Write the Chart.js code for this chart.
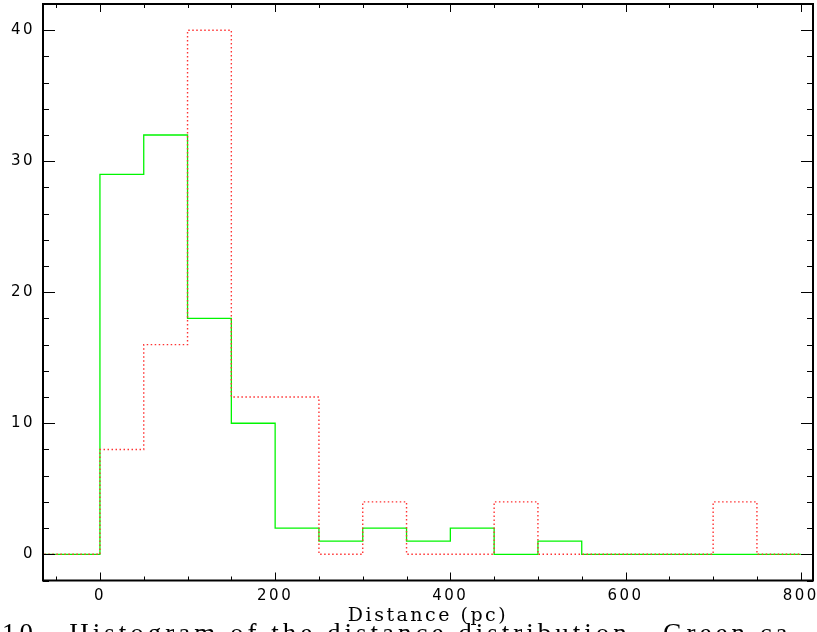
<!DOCTYPE html>
<html>
<head>
<meta charset="utf-8">
<script src="https://cdn.jsdelivr.net/npm/chart.js@4.4.1/dist/chart.umd.min.js"></script>
<style>
html,body{margin:0;padding:0;background:#fff;}
#wrap{width:817px;height:632px;position:relative;}
</style>
</head>
<body>
<div id="wrap"><canvas id="c" width="817" height="632"></canvas></div>
<script>
// Bin left edges (pc); the last entry closes the final bin
const binEdges = [-100, -50, 0, 50, 100, 150, 200, 250, 300, 350, 400, 450, 500, 550, 600, 650, 700, 750, 800];
// Counts per bin (solid green histogram)
const greenCounts = [0, 0, 29, 32, 18, 10, 2, 1, 2, 1, 2, 0, 1, 0, 0, 0, 0, 0];
// Counts per bin (dotted red histogram)
const redCounts = [0, 0, 8, 16, 40, 12, 12, 0, 4, 0, 0, 4, 0, 0, 0, 0, 4, 0];
// Axis tick labels
const xTickValues = [0, 200, 400, 600, 800];
const yTickValues = [0, 10, 20, 30, 40];
const xMinorStep = 50;
const yMinorStep = 2;
const xAxisTitle = 'Distance (pc)';
const captionText = '10.  Histogram of the distance distribution.  Green ca';

function toSteps(counts) {
  const pts = counts.map((c, i) => ({x: binEdges[i], y: c}));
  pts.push({x: binEdges[binEdges.length - 1], y: counts[counts.length - 1]});
  return pts;
}

const framePlugin = {
  id: 'frame',
  beforeDraw(chart) {
    chart.ctx.letterSpacing = '2.5px';
  },
  afterDatasetsDraw(chart) {
    const ctx = chart.ctx;
    const a = chart.chartArea;
    const xs = chart.scales.x, ys = chart.scales.y;
    ctx.save();
    ctx.strokeStyle = '#000';
    ctx.lineWidth = 1;
    const xStart = Math.ceil(xs.min / xMinorStep) * xMinorStep;
    for (let v = xStart; v <= xs.max; v += xMinorStep) {
      const px = Math.round(xs.getPixelForValue(v)) + 0.5;
      const major = xTickValues.includes(v);
      const len = major ? 8 : 4;
      ctx.beginPath();
      ctx.moveTo(px, a.bottom); ctx.lineTo(px, a.bottom - len);
      ctx.moveTo(px, a.top); ctx.lineTo(px, a.top + len);
      ctx.stroke();
    }
    const yStart = Math.ceil(ys.min / yMinorStep) * yMinorStep;
    for (let v = yStart; v <= ys.max; v += yMinorStep) {
      const py = Math.round(ys.getPixelForValue(v)) + 0.5;
      const major = yTickValues.includes(v);
      const len = major ? 12 : 6;
      ctx.beginPath();
      ctx.moveTo(a.left, py); ctx.lineTo(a.left + len, py);
      ctx.moveTo(a.right, py); ctx.lineTo(a.right - len, py);
      ctx.stroke();
    }
    ctx.lineWidth = 2;
    ctx.strokeRect(a.left, a.top, a.right - a.left, a.bottom - a.top);
    ctx.restore();
    ctx.letterSpacing = '2.5px';
  },
  afterDraw(chart) {
    const ctx = chart.ctx;
    ctx.save();
    ctx.letterSpacing = '4px';
    ctx.fillStyle = '#000';
    ctx.font = '27px "Liberation Serif"';
    ctx.textBaseline = 'alphabetic';
    ctx.textAlign = 'left';
    ctx.fillText(captionText, 2, 642);
    ctx.restore();
    ctx.letterSpacing = '0px';
  }
};

function zeroPad(s) {
  s.paddingTop = 0; s.paddingBottom = 0; s.paddingLeft = 0; s.paddingRight = 0;
}

new Chart(document.getElementById('c'), {
  type: 'line',
  data: {
    datasets: [
      {
        label: 'red',
        data: toSteps(redCounts),
        stepped: 'before',
        borderColor: 'rgb(255,50,50)',
        borderWidth: 1.4,
        borderDash: [1.5, 2.5],
        pointRadius: 0,
        fill: false,
        tension: 0
      },
      {
        label: 'green',
        data: toSteps(greenCounts),
        stepped: 'before',
        borderColor: 'rgb(0,245,0)',
        borderWidth: 1.3,
        pointRadius: 0,
        fill: false,
        tension: 0
      }
    ]
  },
  options: {
    responsive: false,
    devicePixelRatio: 1,
    animation: false,
    events: [],
    layout: {padding: {left: 0, right: 4, top: 4, bottom: 0}},
    plugins: {legend: {display: false}, tooltip: {enabled: false}},
    scales: {
      x: {
        type: 'linear',
        position: 'bottom',
        min: -65,
        max: 814,
        grid: {display: false, drawTicks: false},
        border: {display: false},
        afterBuildTicks: s => { s.ticks = xTickValues.map(v => ({value: v})); },
        afterFit: s => { s.height = 51.5; zeroPad(s); },
        ticks: {
          z: 1,
          padding: 7,
          maxRotation: 0,
          autoSkip: false,
          color: '#000',
          font: {family: '"DejaVu Sans"', size: 15}
        },
        title: {
          display: true,
          text: xAxisTitle,
          color: '#000',
          font: {family: '"DejaVu Serif"', size: 19},
          padding: {top: 0, bottom: 5}
        }
      },
      y: {
        type: 'linear',
        position: 'left',
        min: -2,
        max: 42,
        grid: {display: false, drawTicks: false},
        border: {display: false},
        afterBuildTicks: s => { s.ticks = yTickValues.map(v => ({value: v})); },
        afterFit: s => { s.width = 43; zeroPad(s); },
        ticks: {
          z: 1,
          padding: 8,
          color: '#000',
          font: {family: '"DejaVu Sans"', size: 15}
        }
      }
    }
  },
  plugins: [framePlugin]
});
</script>
</body>
</html>
